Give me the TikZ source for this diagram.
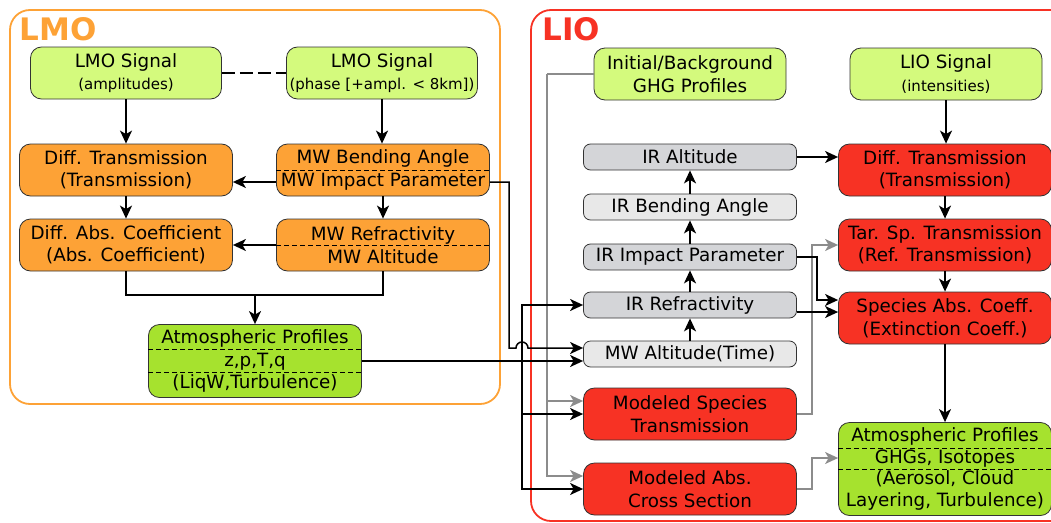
\documentclass[tikz,border=0pt]{standalone}
\usepackage{fontspec}
\setmainfont{DejaVu Sans}
\usetikzlibrary{arrows.meta}
\definecolor{sigGreen}{HTML}{D4FA7D}
\definecolor{atmGreen}{HTML}{A6E22E}
\definecolor{lmoOrange}{HTML}{FDA236}
\definecolor{lioRed}{HTML}{F73224}
\definecolor{irGray}{HTML}{D4D5D8}
\definecolor{irLight}{HTML}{E8E8E8}
\definecolor{feedGray}{HTML}{8C8C8C}
\newcommand{\subtxt}{\fontsize{15}{16}\selectfont}

\begin{document}
\begin{tikzpicture}[x=1pt, y=-1pt,
	every node/.style={font=\fontsize{18.3}{22.5}\selectfont},
	box/.style={draw=black!80, line width=0.8pt, rounded corners=11pt, minimum width=213pt, minimum height=52pt, inner sep=0pt, align=center},
	bar/.style={box, rounded corners=7pt, minimum height=26pt},
	flow/.style={line width=1.5pt, -{Stealth[length=13pt, width=12pt, inset=3.5pt]}},
	feed/.style={flow, draw=feedGray},
	split/.style={dash pattern=on 5pt off 3pt, line width=0.8pt},
	frame/.style={line width=1.8pt, rounded corners=20pt},
	title/.style={anchor=base west, font=\fontsize{31}{31}\selectfont\bfseries}]
	\useasboundingbox (0,0) rectangle (1051,522);
	\clip (0,0) rectangle (1051,522);
	\begin{scope}
		\draw[frame, lmoOrange] (10,10) rectangle (500,404);
		\node[title, text=lmoOrange] (lmoT) at (16,40) {LMO};
		\node[box, fill=sigGreen, minimum width=191pt] (sigA) at (126,73) {LMO Signal\\\subtxt (amplitudes)};
		\node[box, fill=sigGreen, minimum width=191pt] (sigP) at (382,73) {LMO Signal\\\subtxt (phase [+ampl. < 8km])};
		\node[box, fill=lmoOrange] (diffT) at (126,170) {Diff. Transmission\\(Transmission)};
		\node[box, fill=lmoOrange] (mwBend) at (383,170) {MW Bending Angle\\MW Impact Parameter};
		\node[box, fill=lmoOrange] (diffAbs) at (126,245) {Diff. Abs. Coefficient\\(Abs. Coefficient)};
		\node[box, fill=lmoOrange] (mwRef) at (383,245) {MW Refractivity\\MW Altitude};
		\node[box, fill=atmGreen, minimum height=73pt] (atmL) at (255,361) {Atmospheric Profiles\\z,p,T,q\\(LiqW,Turbulence)};
		\draw[split] (mwBend.west) -- (mwBend.east);
		\draw[split] (mwRef.west) -- (mwRef.east);
		\draw[split] ([yshift=11.5pt]atmL.west) -- ([yshift=11.5pt]atmL.east);
		\draw[split] ([yshift=-11.5pt]atmL.west) -- ([yshift=-11.5pt]atmL.east);
		\draw[line width=1.5pt, dash pattern=on 13pt off 5pt] (sigA) -- (sigP);
		\draw[flow] (sigA) -- (diffT);
		\draw[flow] (sigP.south) -- (sigP.south |- mwBend.north);
		\draw[flow] (diffT) -- (diffAbs);
		\draw[flow] (mwBend) -- (mwRef);
		\draw[flow] ([yshift=-12pt]mwBend.west) -- ([yshift=-12pt]diffT.east);
		\draw[flow] (mwRef) -- (diffAbs);
		\coordinate (lmoJoin) at (255,295);
		\draw[line width=1.5pt] (diffAbs.south) |- (lmoJoin) -| (mwRef.south);
		\draw[flow] (lmoJoin) -- (atmL.north);
	\end{scope}
	\begin{scope}
		\draw[frame, lioRed] (531,10) rectangle (1075,521);
		\node[title, text=lioRed] (lioT) at (539,40) {LIO};
		\node[box, fill=sigGreen, minimum width=192pt] (ghg) at (690,74) {Initial/Background\\GHG Profiles};
		\node[box, fill=sigGreen, minimum width=192pt] (lioSig) at (946,74) {LIO Signal\\\subtxt (intensities)};
		\node[bar, fill=irGray] (irAlt) at (690,157) {IR Altitude};
		\node[bar, fill=irLight] (irBend) at (690,207) {IR Bending Angle};
		\node[bar, fill=irGray] (irImp) at (690,257) {IR Impact Parameter};
		\node[bar, fill=irGray] (irRef) at (690,305) {IR Refractivity};
		\node[bar, fill=irLight] (mwAlt) at (690,354) {MW Altitude(Time)};
		\node[box, fill=lioRed] (modSp) at (690,414) {Modeled Species\\Transmission};
		\node[box, fill=lioRed] (modAbs) at (690,489) {Modeled Abs.\\Cross Section};
		\node[box, fill=lioRed] (diffTL) at (945,170) {Diff. Transmission\\(Transmission)};
		\node[box, fill=lioRed] (tarSp) at (945,245) {Tar. Sp. Transmission\\(Ref. Transmission)};
		\node[box, fill=lioRed] (specAbs) at (945,318) {Species Abs. Coeff.\\(Extinction Coeff.)};
		\node[box, fill=atmGreen, minimum height=93pt, font=\fontsize{18.3}{21.8}\selectfont] (atmR) at (945,469) {Atmospheric Profiles\\GHGs, Isotopes\\(Aerosol, Cloud\\Layering, Turbulence)};
		\draw[split] ([yshift=21pt]atmR.west) -- ([yshift=21pt]atmR.east);
		\draw[split] (atmR.west) -- (atmR.east);
		\coordinate (ghgBus) at (547,74);
		\draw[line width=1.5pt, feedGray] (ghg.west) -- (ghgBus);
		\draw[feed] (ghgBus) |- ([yshift=13pt]modSp.west);
		\draw[feed] (ghgBus) |- ([yshift=13pt]modAbs.west);
		\draw[feed] (modSp.east) -- ++(15,0) |- (tarSp.west);
		\draw[feed] (modAbs.east) -- ++(15,0) |- ([yshift=11pt]atmR.west);
		\draw[flow] (lioSig.south) -- (lioSig.south |- diffTL.north);
		\draw[flow] (irAlt) -- (irAlt -| diffTL.west);
		\draw[flow] (irBend) -- (irAlt);
		\draw[flow] (irImp) -- (irBend);
		\draw[flow] (irRef) -- (irImp);
		\draw[flow] (mwAlt) -- (irRef);
		\draw[flow] (diffTL) -- (tarSp);
		\draw[flow] (tarSp) -- (specAbs);
		\draw[flow] (specAbs) -- (atmR);
		\draw[flow] (irImp.east) -- ++(20,0) |- ([yshift=18pt]specAbs.west);
		\draw[flow] ([yshift=-7pt]irRef.east) -- ([yshift=-7pt]irRef.east -| specAbs.west);
	\end{scope}
	\draw[flow] ([yshift=-12pt]mwBend.east) -| (509,348) -- (516,348) arc[start angle=180, end angle=0, radius=6pt] -- ([yshift=6pt]mwAlt.west);
	\draw[flow] (atmL.east) -- (atmL.east -| mwAlt.west);
	\coordinate (bus) at (522,361);
	\draw[flow] (bus) |- (irRef.west);
	\draw[flow] (bus) |- (modSp.west);
	\draw[flow] (bus) |- (modAbs.west);
\end{tikzpicture}
\end{document}
